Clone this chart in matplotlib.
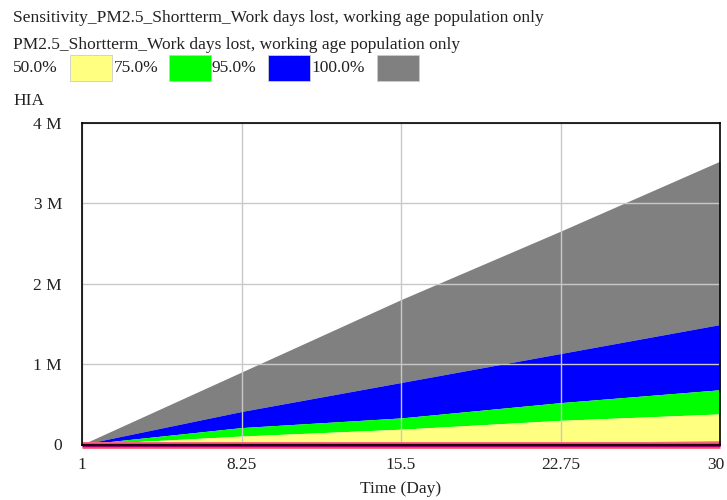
import matplotlib
matplotlib.use("Agg")
import matplotlib.pyplot as plt
from matplotlib.patches import Rectangle
from matplotlib.transforms import ScaledTranslation

# Data, values in persons (HIA)
time = [1, 8.25, 15.5, 22.75, 30]
band_min = [0, 5000, 15000, 28000, 45000]
band_50 = [0, 105000, 190000, 300000, 380000]
band_75 = [0, 210000, 330000, 520000, 680000]
band_95 = [0, 410000, 770000, 1130000, 1490000]
band_100 = [0, 900000, 1800000, 2650000, 3520000]

legend_labels = ["50.0%", "75.0%", "95.0%", "100.0%"]
legend_colors = ["#ffff80", "#00ff00", "#0000ff", "#808080"]
yticks = [0, 1e6, 2e6, 3e6, 4e6]
ytick_labels = ["0", "1 M", "2 M", "3 M", "4 M"]
xticks = [1, 8.25, 15.5, 22.75, 30]
xtick_labels = ["1", "8.25", "15.5", "22.75", "30"]

W, H = 727, 500
fig = plt.figure(figsize=(W / 100, H / 100), dpi=100)
plt.rcParams['font.family'] = ['Liberation Serif', 'DejaVu Serif']
fs = 12.5

def fx(px):
    return px / W

def fy(py):
    return 1 - py / H

fig.text(fx(13), fy(18), "Sensitivity_PM2.5_Shortterm_Work days lost, working age population only",
         fontsize=fs, va='center', ha='left', color='#222222')
fig.text(fx(13), fy(45), "PM2.5_Shortterm_Work days lost, working age population only",
         fontsize=fs, va='center', ha='left', color='#222222')
label_x = [13, 114, 212, 311]
box_x = [70, 169, 268, 377]
for lx, bx, lab, col in zip(label_x, box_x, legend_labels, legend_colors):
    fig.text(fx(lx), fy(68), lab, fontsize=fs, va='center', ha='left', color='#222222')
    fig.patches.append(Rectangle((fx(bx), fy(81)), fx(42), 26 / H, transform=fig.transFigure,
                                 facecolor=col, edgecolor='#cccccc', lw=0.6))
fig.text(fx(13), fy(101), "HIA", fontsize=fs, va='center', ha='left', color='#222222')

left, right, top, bottom = 82, 720, 122.5, 444.5
ax = fig.add_axes([fx(left), fy(bottom), fx(right - left), (bottom - top) / H])

ax.fill_between(time, band_95, band_100, color=legend_colors[3], lw=0)
ax.fill_between(time, band_75, band_95, color=legend_colors[2], lw=0)
ax.fill_between(time, band_50, band_75, color=legend_colors[1], lw=0)
ax.fill_between(time, band_min, band_50, color=legend_colors[0], lw=0)
ax.fill_between(time, [0] * len(time), band_min, color='#00cc00', lw=0)
ax.plot(time, [0] * len(time), color='#ff6080', lw=5, solid_capstyle='butt', clip_on=False, zorder=4)
ax.plot(time, [0] * len(time), color='#a0006a', lw=2.5, solid_capstyle='butt', clip_on=False, zorder=5)

ax.set_xlim(1, 30)
ax.set_ylim(0, 4e6)
ax.set_xticks(xticks)
ax.set_xticklabels(xtick_labels)
ax.set_yticks(yticks)
ax.set_yticklabels(ytick_labels)
ax.tick_params(length=0, labelsize=fs, colors='#222222')
ax.tick_params(axis='y', pad=14.4)
ax.tick_params(axis='x', pad=9)
last = ax.get_xticklabels()[-1]
last.set_transform(last.get_transform() + ScaledTranslation(-4 / 100, 0, fig.dpi_scale_trans))
ax.grid(True, color='#c8c8c8', lw=1)
for gl in ax.get_xgridlines() + ax.get_ygridlines():
    gl.set_zorder(3)
for s in ax.spines.values():
    s.set_color('black')
    s.set_linewidth(1.2)
    s.set_zorder(6)
ax.set_xlabel("Time (Day)", fontsize=fs, color='#222222', labelpad=6)

fig.savefig("out.png", dpi=100)
